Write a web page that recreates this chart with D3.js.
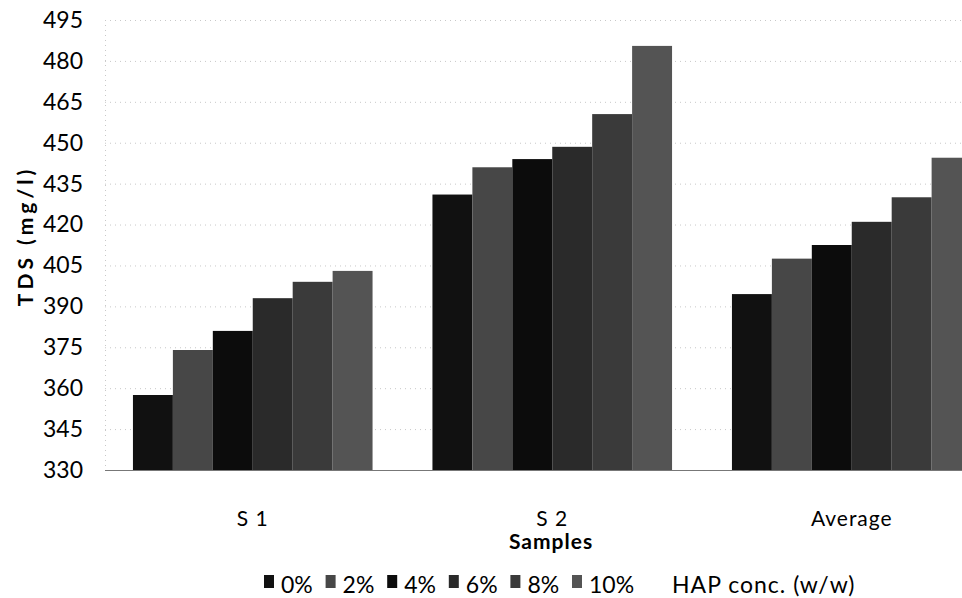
<!DOCTYPE html>
<html>
<head>
<meta charset="utf-8">
<script src="https://cdn.jsdelivr.net/npm/d3@7"></script>
<style>
  body { margin: 0; background: #fff; }
  svg { display: block; font-family: Lato, "Open Sans", sans-serif; }
</style>
</head>
<body>
<script>
'use strict';

// data
var samples = ["S1", "S2", "Average"];
var sampleLabels = ["S 1", "S 2", "Average"];
var concs = ["0%", "2%", "4%", "6%", "8%", "10%"];
var s1Values = [357.5, 374, 381, 393, 399, 403];
var s2Values = [431, 441, 444, 448.5, 460.5, 485.5];
var avgValues = [394.5, 407.5, 412.5, 421, 430, 444.5];
var yTicks = [330, 345, 360, 375, 390, 405, 420, 435, 450, 465, 480, 495];

var colors = ["#111111", "#474747", "#0c0c0c", "#2a2a2a", "#3a3a3a", "#545454"];

(function() {
    var width = 962,
        height = 598;

    var rows = [s1Values, s2Values, avgValues];

    var svg = d3.select("body")
        .append("svg")
        .attr("width", width)
        .attr("height", height);

    var y = d3.scaleLinear()
        .domain([330, 495])
        .range([470, 20]);

    var x0 = d3.scaleBand()
        .domain(samples)
        .range([103, 1001.5])
        .paddingInner(0.2)
        .paddingOuter(0.1);

    var x1 = d3.scaleBand()
        .domain(concs)
        .range([0, x0.bandwidth()]);

    // faint dotted grid
    svg.append("g")
        .selectAll("line")
        .data(yTicks)
        .enter()
        .append("line")
        .attr("x1", 105)
        .attr("x2", width)
        .attr("y1", function(d) { return y(d) + 0.5; })
        .attr("y2", function(d) { return y(d) + 0.5; })
        .attr("stroke", "#c8c8c8")
        .attr("stroke-dasharray", "1,4");

    svg.append("line")
        .attr("x1", 105.5).attr("x2", 105.5)
        .attr("y1", y(495)).attr("y2", y(330))
        .attr("stroke", "#c8c8c8")
        .attr("stroke-dasharray", "1,4");

    // y axis labels
    var yAxis = d3.axisLeft(y)
        .tickValues(yTicks)
        .tickSize(0)
        .tickPadding(0);

    svg.append("g")
        .attr("transform", "translate(83,0)")
        .call(yAxis)
        .call(function(g) { g.select(".domain").remove(); })
        .selectAll("text")
        .attr("font-family", "Lato, sans-serif")
        .attr("font-size", 23)
        .attr("fill", "#000");

    // bars
    var groups = svg.append("g").attr("id", "bars")
        .selectAll("g")
        .data(rows)
        .enter()
        .append("g")
        .attr("transform", function(d, i) { return "translate(" + x0(samples[i]) + ",0)"; });

    groups.selectAll("rect")
        .data(function(d) { return d; })
        .enter()
        .append("rect")
        .attr("x", function(d, i) { return x1(concs[i]); })
        .attr("width", x1.bandwidth())
        .attr("y", function(d) { return y(d); })
        .attr("height", function(d) { return y(330) - y(d); })
        .attr("fill", function(d, i) { return colors[i]; });

    // baseline
    svg.append("line")
        .attr("x1", 105).attr("x2", width)
        .attr("y1", 470.5).attr("y2", 470.5)
        .attr("stroke", "#777")
        .attr("stroke-width", 1);

    // x labels
    var xAxis = d3.axisBottom(x0)
        .tickSize(0)
        .tickPadding(0)
        .tickFormat(function(d, i) { return sampleLabels[i]; });

    svg.append("g")
        .attr("transform", "translate(0,511)")
        .call(xAxis)
        .call(function(g) { g.select(".domain").remove(); })
        .selectAll("text")
        .attr("font-family", "Lato, sans-serif")
        .attr("font-size", 21)
        .attr("letter-spacing", 1)
        .attr("fill", "#000");

    svg.append("text")
        .attr("x", 551)
        .attr("y", 549)
        .attr("text-anchor", "middle")
        .attr("font-size", 21)
        .attr("font-weight", "bold")
        .attr("letter-spacing", 1)
        .text("Samples");

    svg.append("text")
        .attr("transform", "translate(33,236) rotate(-90)")
        .attr("text-anchor", "middle")
        .attr("font-size", 21)
        .attr("font-weight", "bold")
        .attr("letter-spacing", 4)
        .text("TDS (mg/l)");

    // legend
    var legend = svg.append("g")
        .attr("transform", "translate(264,573)");

    var items = legend.selectAll("g")
        .data(concs)
        .enter()
        .append("g")
        .attr("transform", function(d, i) { return "translate(" + (i * 61.6) + ",0)"; });

    items.append("rect")
        .attr("width", 10)
        .attr("height", 13)
        .attr("y", 2)
        .attr("fill", function(d, i) { return colors[i]; });

    items.append("text")
        .attr("x", 17)
        .attr("y", 20)
        .attr("font-size", 23)
        .text(function(d) { return d; });

    svg.append("text")
        .attr("x", 672)
        .attr("y", 593)
        .attr("font-size", 23)
        .attr("letter-spacing", 1)
        .text("HAP conc. (w/w)");
})();
</script>
</body>
</html>
